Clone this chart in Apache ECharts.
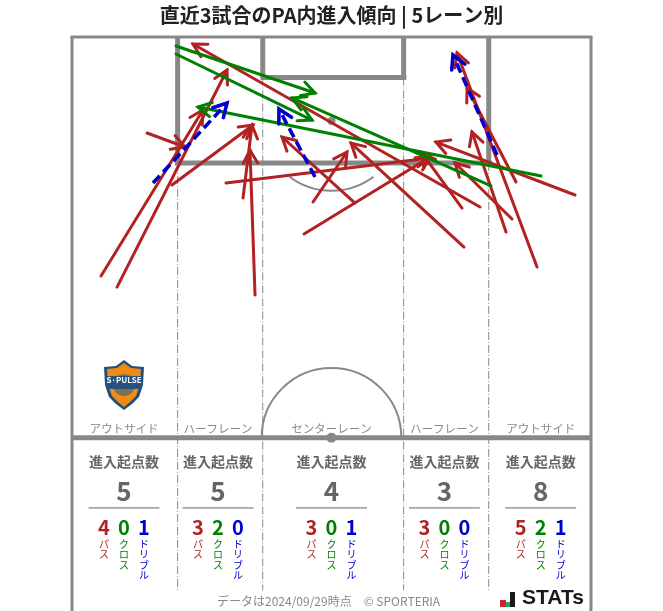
<!DOCTYPE html>
<html><head><meta charset="utf-8">
<style>html,body{margin:0;padding:0;background:#fff}#c{width:663px;height:611px}</style>
<script src="https://cdn.jsdelivr.net/npm/echarts@6/dist/echarts.min.js"></script>
</head><body><div id="c"></div>
<script>
// [startX, startY, endX, endY] in metres: X across the pitch, Y from the goal line
const passArrows = [
 [3.8,31.32,17.16,9.56],[5.9,32.76,20.31,4.32],[9.83,12.58,14.81,14.41],[13.1,19.39,23.72,11.53],
 [22.41,21.1,23.58,11.53],[23.98,33.8,23.32,14.81],[20.18,19.13,46.91,15.85],
 [30.4,25.81,46.91,15.72],[31.58,21.62,36.03,15.07],[37.08,21.75,27.52,13.1],
 [51.36,27.52,36.56,13.89],[51.1,22.41,45.86,15.2],[53.46,22.27,15.85,0.92],
 [60.93,30.14,50.45,2.1],[58.18,19,51.76,6.68],[65.91,20.7,47.69,13.76],[56.87,25.55,52.41,12.45],[57.65,23.85,50.18,16.51]
];
const crossArrows = [
 [13.63,1.18,31.84,7.34],[13.63,2.23,31.45,10.88],[61.45,18.21,16.51,9.17],[54.9,19.52,28.83,7.99]
];
const dribbleArrows = [
 [10.61,19.13,20.31,8.65],[31.84,18.34,27.12,9.43],[55.69,15.46,49.92,2.36]
];
const laneNames = ['アウトサイド','ハーフレーン','センターレーン','ハーフレーン','アウトサイド'];
const laneCentres = [6.81,19.13,34,48.8,61.4];
const laneTotals = [5,5,4,3,8];
const lanePasses = [4,3,3,3,5];
const laneCrosses = [0,2,0,0,2];
const laneDribbles = [1,0,1,0,1];
const kindNames = ['パス','クロス','ドリブル'];
const title = '直近3試合のPA内進入傾向 | 5レーン別';
const footer = 'データは2024/09/29時点　© SPORTERIA';

const FONT = '"Noto Sans CJK JP","Noto Sans",sans-serif';
const RED='#b22222', GREEN='#008000', BLUE='#0000cd', PITCH='#888888', GREY='#666666';

function arrowSeries(data,color,dashed){
  return {type:'custom',coordinateSystem:'cartesian2d',clip:false,silent:true,z:dashed?5:(color===GREEN?4:3),
    encode:{x:[0,2],y:[1,3]},data,
    renderItem(p,api){
      const a=api.coord([api.value(0),api.value(1)]), b=api.coord([api.value(2),api.value(3)]);
      const ang=Math.atan2(b[1]-a[1],b[0]-a[0]), L=15, w=0.5;
      const h1=[b[0]-L*Math.cos(ang-w),b[1]-L*Math.sin(ang-w)], h2=[b[0]-L*Math.cos(ang+w),b[1]-L*Math.sin(ang+w)];
      const st={stroke:color,lineWidth:dashed?3.6:3,fill:null,lineCap:'round',lineJoin:'miter'};
      return {type:'group',children:[
        {type:'polyline',shape:{points:[a,b]},style:dashed?{...st,lineDash:[10,5],lineCap:'butt'}:st},
        {type:'polyline',shape:{points:[h1,b,h2]},style:st}
      ]};
    }};
}
function seg(api,x1,y1,x2,y2,w,color,dash){
  const a=api.coord([x1,y1]),b=api.coord([x2,y2]);
  return {type:'line',shape:{x1:a[0],y1:a[1],x2:b[0],y2:b[1]},style:{stroke:color||PITCH,lineWidth:w,lineDash:dash||null}};
}
const chart=echarts.init(document.getElementById('c'),null,{renderer:'canvas'});
chart.setOption({
  animation:false,backgroundColor:'#fff',
  title:{text:title,left:'center',top:5,textStyle:{fontFamily:FONT,fontSize:20,fontWeight:'bold',color:'#222'},padding:0},
  grid:{left:72,top:37,width:519,height:574},
  xAxis:{type:'value',min:0,max:68,show:false},
  yAxis:{type:'value',min:0,max:75.2,inverse:true,show:false},
  series:[
    {type:'custom',coordinateSystem:'cartesian2d',clip:false,silent:true,z:1,data:[[0,0]],encode:{x:0,y:1},
     renderItem(p,api){
       const c=[];
       const r=api.size([9.15,0])[0], dash=[8,2,1,2];
       [13.84,24.99,43.45,54.6 ].forEach((x,i)=>{const top=(i==1||i==2)?5.3:16.5;
         c.push(seg(api,x,top,x,72.5,1,'#888888',dash));});
       const ctr=api.coord([34,52.5]), spot=api.coord([34,11]);
       c.push({type:'arc',shape:{cx:ctr[0],cy:ctr[1],r,startAngle:Math.PI,endAngle:0,clockwise:true},style:{stroke:PITCH,lineWidth:2,fill:null}});
       const off=Math.acos(5.5/9.15);
       c.push({type:'arc',shape:{cx:spot[0],cy:spot[1],r,startAngle:off,endAngle:Math.PI-off,clockwise:true},style:{stroke:PITCH,lineWidth:2,fill:null}});
       c.push({type:'circle',shape:{cx:spot[0],cy:spot[1],r:4},style:{fill:PITCH}});
       c.push({type:'circle',shape:{cx:ctr[0],cy:ctr[1],r:5},style:{fill:PITCH}});
       c.push(seg(api,13.84,0,13.84,16.5,5), seg(api,54.6,0,54.6,16.5,5), seg(api,13.5,16.5,55,16.5,5));
       c.push(seg(api,24.99,0,24.99,5.3,5), seg(api,43.45,0,43.45,5.3,5), seg(api,24.7,5.3,43.8,5.3,5));
       c.push(seg(api,0,52.5,68,52.5,5));
       c.push(seg(api,0,0,0,75.2,3), seg(api,68,0,68,75.2,3), seg(api,-0.2,0,68.2,0,3));
       return {type:'group',children:c};
     }},
    {type:'custom',coordinateSystem:'cartesian2d',clip:false,silent:true,z:2,encode:{x:0,y:1},
     data:laneCentres.map((x,i)=>[x,i]),
     renderItem(p,api){
       const i=api.value(1), X=api.value(0), hw=api.size([4.65,0])[0];
       const px=api.coord([X,0])[0];
       const Y=m=>api.coord([X,m])[1];
       const t=(x,y,text,fs,color,fw,extra)=>({type:'text',style:{x,y,text,font:`${fw||'normal'} ${fs}px ${FONT}`,fontFamily:FONT,fontSize:fs,fontWeight:fw||'normal',fill:color,align:'center',verticalAlign:'middle',...extra}});
       const vals=[lanePasses[i],laneCrosses[i],laneDribbles[i]], cols=[RED,GREEN,BLUE];
       const c=[
         t(px,Y(51.25),laneNames[i],11.5,'#888888'),
         t(px,Y(55.7),'進入起点数',14,GREY,'bold'),
         t(px,Y(59.5),String(laneTotals[i]),26,GREY,'bold'),
         {type:'line',shape:{x1:px-hw,y1:Y(61.7),x2:px+hw,y2:Y(61.7)},style:{stroke:GREY,lineWidth:1}}
       ];
       vals.forEach((v,k)=>{
         const x=px+(k-1)*20;
         c.push(t(x,Y(64.3),String(v),20,cols[k],'bold'));
         [...kindNames[k]].forEach((ch,n)=>c.push(t(x,Y(65.6)+6+n*10.6,ch,10,cols[k])));
       });
       return {type:'group',children:c};
     }},
    arrowSeries(passArrows,RED,false),
    arrowSeries(crossArrows,GREEN,false),
    arrowSeries(dribbleArrows,BLUE,true)
  ],
  graphic:[
    {type:'text',left:217,top:595,style:{text:footer,font:`12px ${FONT}`,fill:'#888888'}},
    // club crest
    {type:'group',x:124,y:385,z:10,children:[
      {type:'polygon',shape:{points:[[-20,-18],[-8,-19],[0,-25],[8,-19],[20,-18],[19,0],[15,12],[8,19],[0,25],[-8,19],[-15,12],[-19,0]]},style:{fill:'#1f4f80'}},
      {type:'polygon',shape:{points:[[-17,-16],[-7,-17],[0,-22],[7,-17],[17,-16],[16,0],[12,11],[6,17],[0,22],[-6,17],[-12,11],[-16,0]]},style:{fill:'#f08a12'}},
      {type:'circle',shape:{cx:0,cy:0,r:11},style:{fill:'#2f5f86',opacity:0.6}},
      {type:'rect',shape:{x:-17,y:-9,width:34,height:13},style:{fill:'#26527c'}},
      {type:'text',x:0,y:-5,style:{text:'S·PULSE',font:`bold 8px ${FONT}`,fill:'#fff',align:'center',verticalAlign:'middle'}}
    ]},
    // data provider mark
    {type:'rect',shape:{x:500,y:600,width:6,height:7},style:{fill:'#cc2233'}},
    {type:'rect',shape:{x:506,y:602,width:5,height:5},style:{fill:'#22aa55'}},
    {type:'rect',shape:{x:510,y:592,width:5,height:15},style:{fill:'#1a1a1a'}},
    {type:'text',left:522,top:588,style:{text:'STATs',font:`bold 21px "Liberation Sans",sans-serif`,fill:'#1a1a1a'}}
  ]
});
</script></body></html>
